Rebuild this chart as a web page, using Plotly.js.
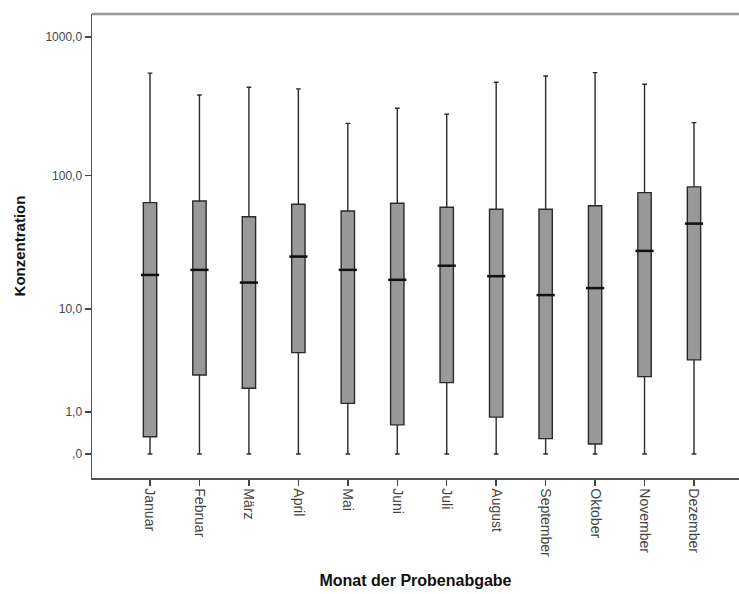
<!DOCTYPE html>
<html>
<head>
<meta charset="utf-8">
<script src="https://cdn.plot.ly/plotly-3.0.1.min.js"></script>
<style>html,body{margin:0;padding:0;background:#fff;}#chart{width:739px;height:594px;}</style>
</head>
<body>
<div id="chart"></div>
<script>
// Months (categories)
const months = ["Januar","Februar","März","April","Mai","Juni","Juli","August","September","Oktober","November","Dezember"];
// Box statistics (Konzentration, original units)
const lowerWhisker = [0,0,0,0,0,0,0,0,0,0,0,0];
const q1Values     = [0.33, 2.70, 1.97, 4.36, 1.31, 0.62, 2.26, 0.84, 0.29, 0.18, 2.60, 3.75];
const medianValues = [18.4, 20.1, 16.1, 25.3, 20.1, 16.9, 21.6, 18.0, 12.9, 14.6, 27.9, 44.4];
const q3Values     = [63.3, 65.1, 49.9, 61.6, 55.0, 62.6, 58.5, 56.6, 56.6, 60.1, 74.8, 82.4];
const upperWhisker = [548, 381, 434, 422, 238, 306, 277, 471, 523, 553, 456, 241];
// Y tick values/labels (axis is log of value+1)
const yTickValues = [0, 1, 10, 100, 1000];
const yTickLabels = [",0", "1,0", "10,0", "100,0", "1000,0"];

const shift = v => v + 1; // log(x+1) scale as in the original

const boxTrace = {
  type: "box",
  x: months,
  q1: q1Values.map(shift),
  median: medianValues.map(shift),
  q3: q3Values.map(shift),
  lowerfence: lowerWhisker.map(shift),
  upperfence: upperWhisker.map(shift),
  boxpoints: false,
  fillcolor: "#999999",
  line: {color: "#2a2a2a", width: 1.4},
  width: 0.27,
  whiskerwidth: 0.35,
  showlegend: false,
  hoverinfo: "skip"
};
const medianTrace = {
  type: "scatter",
  mode: "markers",
  x: months,
  y: medianValues.map(shift),
  marker: {symbol: "line-ew", size: 13, line: {color: "#111", width: 2.5}},
  showlegend: false,
  hoverinfo: "skip"
};

const fam = "Liberation Sans, Arial, sans-serif";
const layout = {
  width: 739, height: 594,
  margin: {l: 92, r: 0, t: 14, b: 116},
  paper_bgcolor: "#fff", plot_bgcolor: "#fff",
  font: {family: fam, color: "#333", size: 12},
  xaxis: {
    type: "category",
    range: [-1.173, 11.91],
    showgrid: false, zeroline: false,
    showline: true, linecolor: "#555", linewidth: 1.5,
    ticks: "outside", ticklen: 6, tickcolor: "#444", tickwidth: 1.5,
    tickangle: 90,
    tickfont: {size: 14, color: "#444", family: fam},
    title: {text: "Monat der Probenabgabe", font: {size: 16, color: "#111", family: fam, weight: "bold"}, standoff: 18}
  },
  yaxis: {
    type: "log",
    range: [-0.173, 3.165],
    tickmode: "array",
    tickvals: yTickValues.map(shift),
    ticktext: yTickLabels,
    showgrid: false, zeroline: false,
    showline: true, linecolor: "#555", linewidth: 1.5,
    ticks: "outside", ticklen: 6, tickcolor: "#444", tickwidth: 1.5,
    tickfont: {size: 12, color: "#444", family: fam},
    title: {text: "Konzentration", font: {size: 15, color: "#111", family: fam, weight: "bold"}, standoff: 16}
  },
  shapes: [{
    type: "line", xref: "paper", yref: "paper", x0: 0, x1: 1, y0: 1, y1: 1,
    line: {color: "#999", width: 2.5}
  }]
};

Plotly.newPlot("chart", [boxTrace, medianTrace], layout, {displayModeBar: false, staticPlot: true});
</script>
</body>
</html>
